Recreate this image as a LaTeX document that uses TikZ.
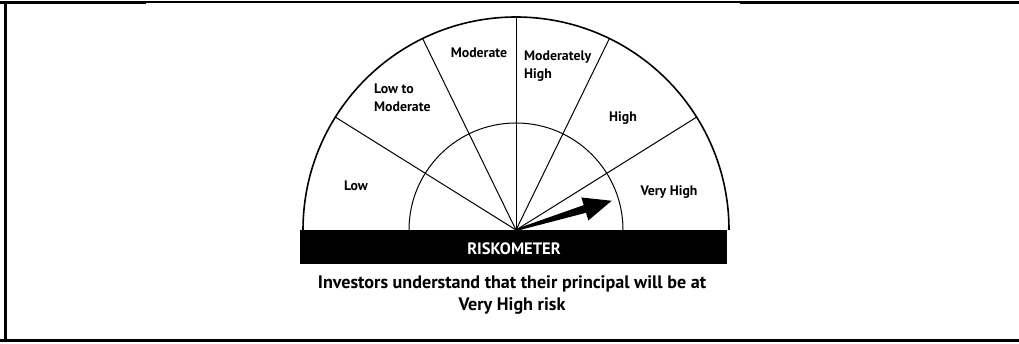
\documentclass[tikz,border=0pt]{standalone}
\usepackage{fontspec}
\setmainfont{PT Sans}
\usepackage{tikz}

\begin{document}
\begin{tikzpicture}[x=1pt, y=1pt, line join=round,
	zone label/.style={font=\bfseries\fontsize{13.8}{18}\selectfont, inner sep=0pt, align=left},
	bar label/.style={font=\bfseries\fontsize{16.5}{18}\selectfont, text=white, inner sep=0pt},
	caption/.style={font=\bfseries\fontsize{18.1}{22}\selectfont, inner sep=0pt, align=center},
	divider/.style={line width=1pt},
	frame line/.style={line width=2.7pt}]
	
	\useasboundingbox (0,0) rectangle (1019,344);
	\coordinate (c) at (516,114);
	
	\draw[frame line] (0,341.7) -- (146,341.7);
	\draw[line width=2pt] (146,342) -- (740,342);
	\draw[frame line] (740,341.7) -- (1019,341.7);
	\draw[frame line] (5.3,341.7) -- (5.3,3.3);
	\draw[frame line] (0,3.3) -- (1019,3.3);
	
	\draw[line width=1.6pt] (c) ++(-213,0) arc[start angle=180, end angle=0, radius=213pt];
	\draw[divider] (c) ++(-107,0) arc[start angle=180, end angle=0, radius=107pt];
	\foreach \a in {32,64,90,116,148}
	\draw[divider] (c) -- ++(\a:213pt);
	
	\fill (300,80) rectangle (727,114);
	\node[bar label] (riskometer) at (514,95) {RISKOMETER};
	
	\begin{scope}[shift={(c)}, rotate=17]
		\fill (0,-1) -- (72,-4) -- (72,-12) -- (100,0) -- (72,12) -- (72,4) -- (0,1) -- cycle;
	\end{scope}
	
	\node[zone label] (low) at (356,158) {Low};
	\node[zone label, anchor=base west] (lowmod) at (374,232) {Low to\\Moderate};
	\node[zone label] (mod) at (479,291) {Moderate};
	\node[zone label, anchor=base west] (modhigh) at (524,265) {Moderately\\High};
	\node[zone label] (high) at (623,226) {High};
	\node[zone label] (vhigh) at (669,152) {Very High};
	
	\node[caption] (note) at (512,49) {Investors understand that their principal will be at\\Very High risk};
\end{tikzpicture}
\end{document}
